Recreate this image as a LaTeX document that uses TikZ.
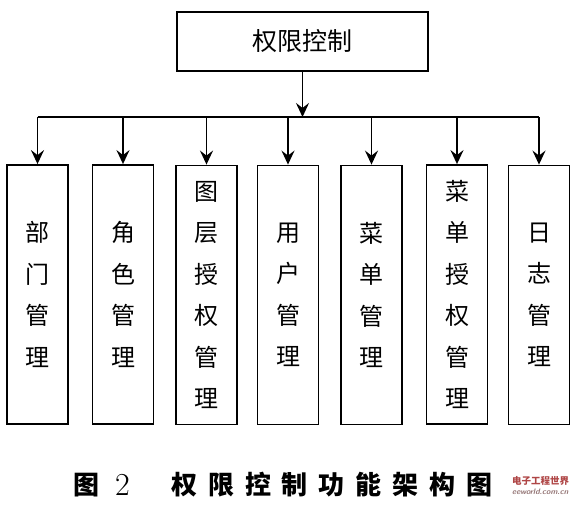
\documentclass[tikz,border=0pt]{standalone}
\usepackage{fontspec}
\usetikzlibrary{arrows.meta}
\newfontfamily\cjk{Noto Sans CJK SC}
\newfontfamily\capfont{Noto Sans CJK SC}[LetterSpace=42]
\definecolor{wmred}{RGB}{175,70,70}
\definecolor{wmgray}{RGB}{150,120,120}
\tikzset{
  box/.style={draw, line width=1.8pt, rectangle, inner sep=0pt,
    minimum width=61pt, minimum height=259pt, align=center,
    font=\cjk\fontsize{24}{41.5}\selectfont},
  topbox/.style={draw, line width=1.8pt, rectangle, inner sep=0pt,
    minimum width=251pt, minimum height=59pt,
    font=\cjk\fontsize{25}{30}\selectfont},
  conn/.style={line width=1.8pt},
  arr/.style={line width=1.8pt, -{Stealth[length=14pt,width=13pt,inset=5pt]}},
}
\begin{document}
\begin{tikzpicture}[x=1pt,y=-1pt]
\useasboundingbox (0,0) rectangle (584,511);
\node[topbox] (top) at (302.5,41.5) {权限控制};
\node[box] (b1) at (37.5,294.5) {部\\门\\管\\理};
\node[box] (b2) at (123,294.5) {角\\色\\管\\理};
\node[box] (b3) at (206.5,295) {图\\层\\授\\权\\管\\理};
\node[box] (b4) at (288,295) {用\\户\\管\\理};
\node[box] (b5) at (371.5,295) {菜\\单\\管\\理};
\node[box] (b6) at (457,294.5) {菜\\单\\授\\权\\管\\理};
\node[box] (b7) at (539,295) {日\\志\\管\\理};
\coordinate (bus) at (302.5,117);
\draw[arr] (top.south) -- (bus);
\draw[conn] (bus -| b1) -- (bus -| b7);
\foreach \b in {b1,b2,b3,b4,b5,b6,b7}{
  \draw[arr] (bus -| \b) -- (\b.north);
}
\node[font=\cjk\bfseries\fontsize{26}{30}\selectfont, inner sep=0pt] (capfig) at (86,485) {图};
\node[font=\fontsize{32}{36}\selectfont, inner sep=0pt] (capnum) at (122.5,485) {2};
\node[font=\capfont\bfseries\fontsize{26}{30}\selectfont, inner sep=0pt, anchor=west] (captitle) at (171,485) {权限控制功能架构图};
\node[font=\cjk\bfseries\fontsize{9.5}{10}\selectfont, text=wmred, inner sep=0pt, anchor=west] (wm1) at (512,481) {电子工程世界};
\node[font=\sffamily\itshape\bfseries\fontsize{8}{9}\selectfont, text=wmgray, inner sep=0pt, anchor=west] (wm2) at (512,492) {eeworld.com.cn};
\end{tikzpicture}
\end{document}
